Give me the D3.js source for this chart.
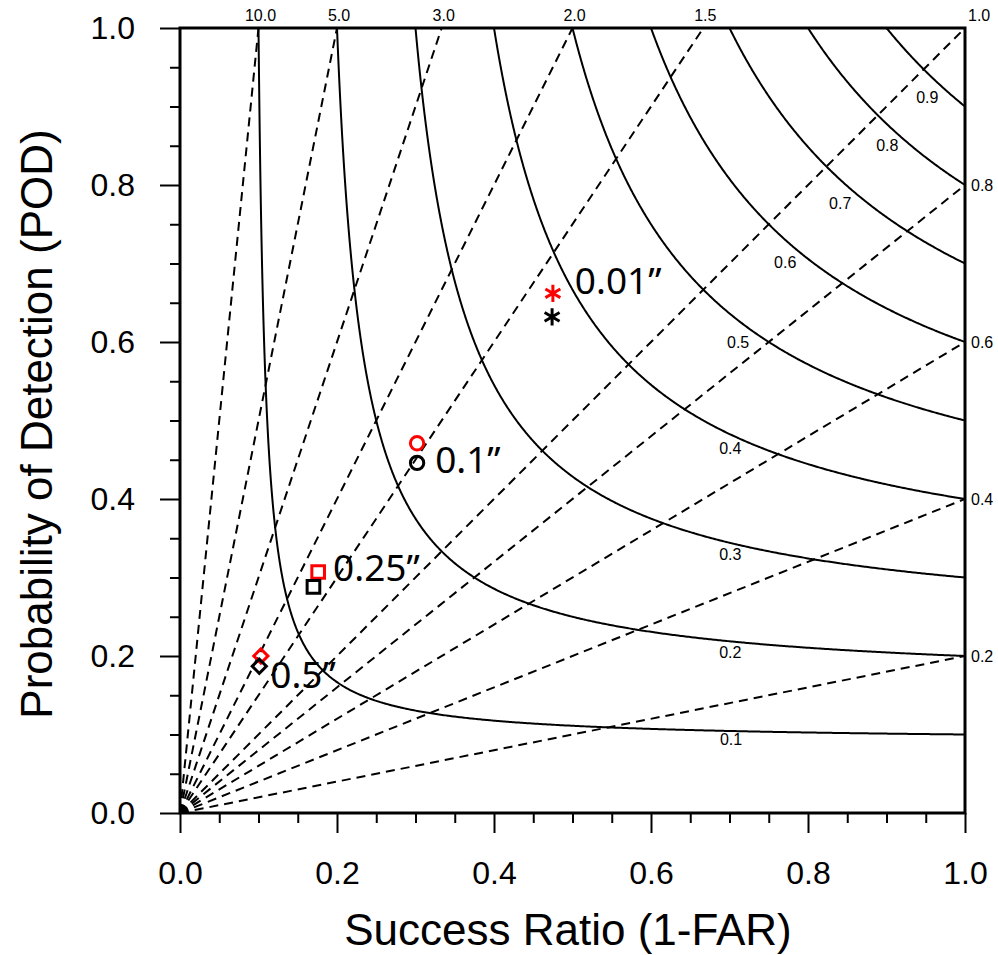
<!DOCTYPE html>
<html>
<head>
<meta charset="utf-8">
<script src="https://cdn.jsdelivr.net/npm/d3@7"></script>
<style>
  body { margin: 0; background: #fff; }
  svg { display: block; }
</style>
</head>
<body>
<div id="chart"></div>
<script>
// CSI contour levels and where their labels sit (SR, POD)
const csiLevels = [0.1, 0.2, 0.3, 0.4, 0.5, 0.6, 0.7, 0.8, 0.9];
const csiLabelSR = [0.702, 0.701, 0.701, 0.701, 0.711, 0.771, 0.841, 0.901, 0.952];
const csiLabelPOD = [0.094, 0.205, 0.330, 0.465, 0.600, 0.701, 0.776, 0.850, 0.911];

// frequency bias lines
const biasLevels = [0.2, 0.4, 0.6, 0.8, 1.0, 1.5, 2.0, 3.0, 5.0, 10.0];

// thresholds, two runs (red / black)
const thresholds = ["0.01\u201D", "0.1\u201D", "0.25\u201D", "0.5\u201D"];
const shapes = ["asterisk", "circle", "square", "diamond"];
const srRed = [0.475, 0.302, 0.176, 0.103];
const podRed = [0.662, 0.471, 0.307, 0.200];
const srBlack = [0.474, 0.302, 0.170, 0.101];
const podBlack = [0.632, 0.446, 0.288, 0.187];
const labelSR = [0.503, 0.325, 0.195, 0.115];
const labelPOD = [0.678, 0.450, 0.313, 0.176];

const xTicks = [0, 0.2, 0.4, 0.6, 0.8, 1.0];
const yTicks = [0, 0.2, 0.4, 0.6, 0.8, 1.0];

const width = 998, height = 955;
const m = { left: 180, right: 965, top: 28, bottom: 813 };

const svg = d3.select("#chart").append("svg")
  .attr("width", width)
  .attr("height", height)
  .style("background", "#fff");

const x = d3.scaleLinear().domain([0, 1]).range([m.left, m.right]);
const y = d3.scaleLinear().domain([0, 1]).range([m.bottom, m.top]);

svg.append("defs").append("clipPath")
  .attr("id", "plot-clip")
  .append("rect")
  .attr("x", m.left).attr("y", m.top)
  .attr("width", m.right - m.left).attr("height", m.bottom - m.top);

const plot = svg.append("g").attr("clip-path", "url(#plot-clip)");
const line = d3.line().x(d => x(d[0])).y(d => y(d[1]));

// bias lines from the origin
plot.selectAll("path.bias")
  .data(biasLevels)
  .enter()
  .append("path")
  .attr("class", "bias")
  .attr("d", b => line([[0, 0], [Math.min(1, 1 / b), Math.min(1, b)]]))
  .attr("fill", "none")
  .attr("stroke", "#000")
  .attr("stroke-width", 2)
  .attr("stroke-dasharray", "9,6");

// CSI curves: 1/SR + 1/POD = 1/c + 1
function csiCurve(c) {
  const k = 1 / c + 1;
  const pts = [];
  d3.range(c, 1.0001, 0.002).forEach(s => pts.push([s, 1 / (k - 1 / s)]));
  d3.range(c, 1.0001, 0.002).forEach(p => pts.push([1 / (k - 1 / p), p]));
  pts.push([1, c], [c, 1]);
  return pts.sort((a, b) => a[0] - b[0]);
}

plot.selectAll("path.csi")
  .data(csiLevels)
  .enter()
  .append("path")
  .attr("class", "csi")
  .attr("d", c => line(csiCurve(c)))
  .attr("fill", "none")
  .attr("stroke", "#000")
  .attr("stroke-width", 2);

svg.selectAll("text.csi-label")
  .data(csiLevels)
  .enter()
  .append("text")
  .attr("class", "csi-label")
  .attr("x", (d, i) => x(csiLabelSR[i]))
  .attr("y", (d, i) => y(csiLabelPOD[i]))
  .attr("dy", "0.35em")
  .attr("text-anchor", "middle")
  .style("font-family", "Liberation Sans, Arial, sans-serif")
  .style("font-size", "16px")
  .text(d => d.toFixed(1));

// bias labels: top edge for b >= 1, right edge otherwise
svg.selectAll("text.bias-label")
  .data(biasLevels)
  .enter()
  .append("text")
  .attr("class", "bias-label")
  .attr("x", b => b > 1 ? x(1 / b) + 2 : (b === 1 ? x(1) + 3 : x(1) + 6))
  .attr("y", b => b >= 1 ? 21 : y(b) + 6)
  .attr("text-anchor", b => b > 1 ? "middle" : "start")
  .style("font-family", "Liberation Sans, Arial, sans-serif")
  .style("font-size", "16px")
  .text(b => b.toFixed(1));

// axes
const fmt = d3.format(".1f");
const minor = d3.range(0, 1.0001, 0.05).filter(v => Math.abs(v * 5 - Math.round(v * 5)) > 1e-6);

const xAxis = svg.append("g")
  .attr("transform", `translate(0,${m.bottom})`)
  .call(d3.axisBottom(x).tickValues(xTicks).tickFormat(fmt).tickSize(20).tickPadding(28));
const xMinor = svg.append("g")
  .attr("transform", `translate(0,${m.bottom})`)
  .call(d3.axisBottom(x).tickValues(minor).tickFormat("").tickSize(10));
const yAxis = svg.append("g")
  .attr("transform", `translate(${m.left},0)`)
  .call(d3.axisLeft(y).tickValues(yTicks).tickFormat(fmt).tickSize(20).tickPadding(25));
const yMinor = svg.append("g")
  .attr("transform", `translate(${m.left},0)`)
  .call(d3.axisLeft(y).tickValues(minor).tickFormat("").tickSize(10));

[xAxis, xMinor, yAxis, yMinor].forEach(g => {
  g.select(".domain").remove();
  g.selectAll(".tick line").attr("stroke", "#000").attr("stroke-width", 2);
  g.selectAll(".tick text")
    .attr("fill", "#000")
    .style("font-family", "Liberation Sans, Arial, sans-serif")
    .style("font-size", "32px");
});

svg.append("rect")
  .attr("x", m.left).attr("y", m.top)
  .attr("width", m.right - m.left).attr("height", m.bottom - m.top)
  .attr("fill", "none")
  .attr("stroke", "#000")
  .attr("stroke-width", 3);

// markers
const symbolType = {
  asterisk: d3.symbolAsterisk,
  circle: d3.symbolCircle,
  square: d3.symbolSquare,
  diamond: d3.symbolSquare
};
const symbolSize = { asterisk: 210, circle: 140, square: 160, diamond: 100 };

function drawMarkers(srs, pods, color) {
  svg.selectAll(null)
    .data(shapes)
    .enter()
    .append("path")
    .attr("transform", (d, i) => `translate(${x(srs[i])},${y(pods[i])})` + (d === "diamond" ? " rotate(45)" : ""))
    .attr("d", d => d3.symbol(symbolType[d], symbolSize[d])())
    .attr("fill", "none")
    .attr("stroke", color)
    .attr("stroke-width", 3);
}
drawMarkers(srRed, podRed, "#ff0000");
drawMarkers(srBlack, podBlack, "#000");

svg.selectAll("text.thr")
  .data(thresholds)
  .enter()
  .append("text")
  .attr("class", "thr")
  .attr("x", (d, i) => x(labelSR[i]))
  .attr("y", (d, i) => y(labelPOD[i]))
  .attr("dy", "0.36em")
  .style("font-family", "Noto Sans, Open Sans, sans-serif")
  .style("font-size", "37px")
  .text(d => d);

// axis titles
svg.append("text")
  .attr("x", 568)
  .attr("y", 945)
  .attr("text-anchor", "middle")
  .style("font-family", "Liberation Sans, Arial, sans-serif")
  .style("font-size", "44px")
  .text("Success Ratio (1-FAR)");

svg.append("text")
  .attr("transform", "translate(52,424) rotate(-90)")
  .attr("text-anchor", "middle")
  .style("font-family", "Liberation Sans, Arial, sans-serif")
  .style("font-size", "44px")
  .text("Probability of Detection (POD)");
</script>
</body>
</html>
